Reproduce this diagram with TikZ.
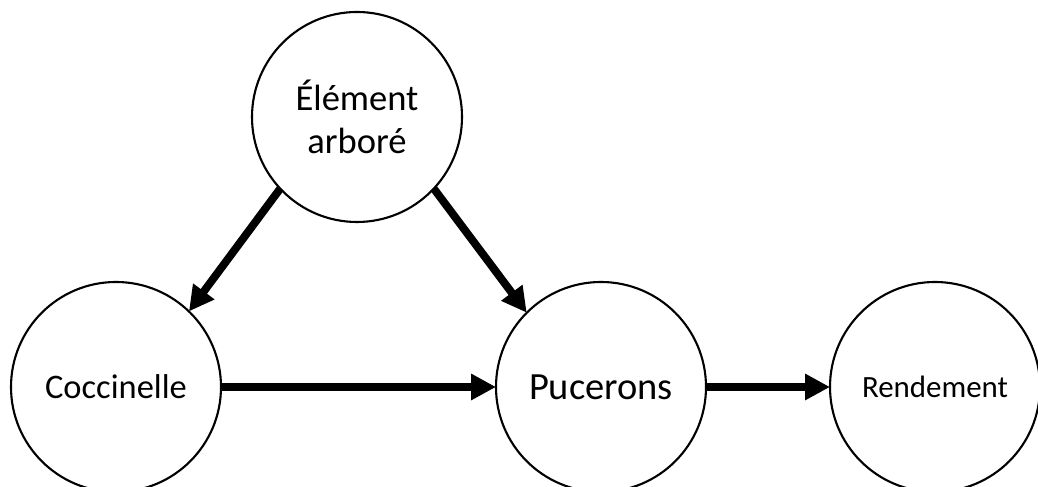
\documentclass[tikz,border=0pt]{standalone}
\usepackage{fontspec}
\setmainfont{Carlito}
\usepackage{tikz}
\usetikzlibrary{positioning, arrows.meta}
\tikzset{
    every node/.style={circle, draw, line width=1.2pt, minimum size=4.2cm, inner sep=0pt, outer sep=0pt, align=center}, % the round boxes
    lien/.style={line width=4.5pt, -{Triangle[length=5mm, width=5mm]}}, % the thick arrows
    node distance=9.7cm, % centre to centre distance on the lower row
}
\begin{document}
\begin{tikzpicture}
                  \useasboundingbox (0,0) rectangle (20.76,9.74);
                  \node[font=\fontsize{20.8}{24.5}\selectfont] at (7.14, 7.40) (arb) {Élément\\ arboré};
                  \node[font=\fontsize{19.6}{23}\selectfont] at (2.32, 2.00) (coc) {Coccinelle};
                  \node[right of=coc, font=\fontsize{21.9}{25}\selectfont] (puc) {Pucerons};
                  \node[right of=puc, node distance=6.68cm, font=\fontsize{17.6}{21}\selectfont] (ren) {Rendement};
                  \draw[lien] (arb.223) -- (coc.46);
                  \draw[lien] (arb.317) -- (puc.135);
                  \draw[lien] (coc.east) -- (puc.west);
                  \draw[lien] (puc.east) -- (ren.west);
              \end{tikzpicture}
\end{document}
